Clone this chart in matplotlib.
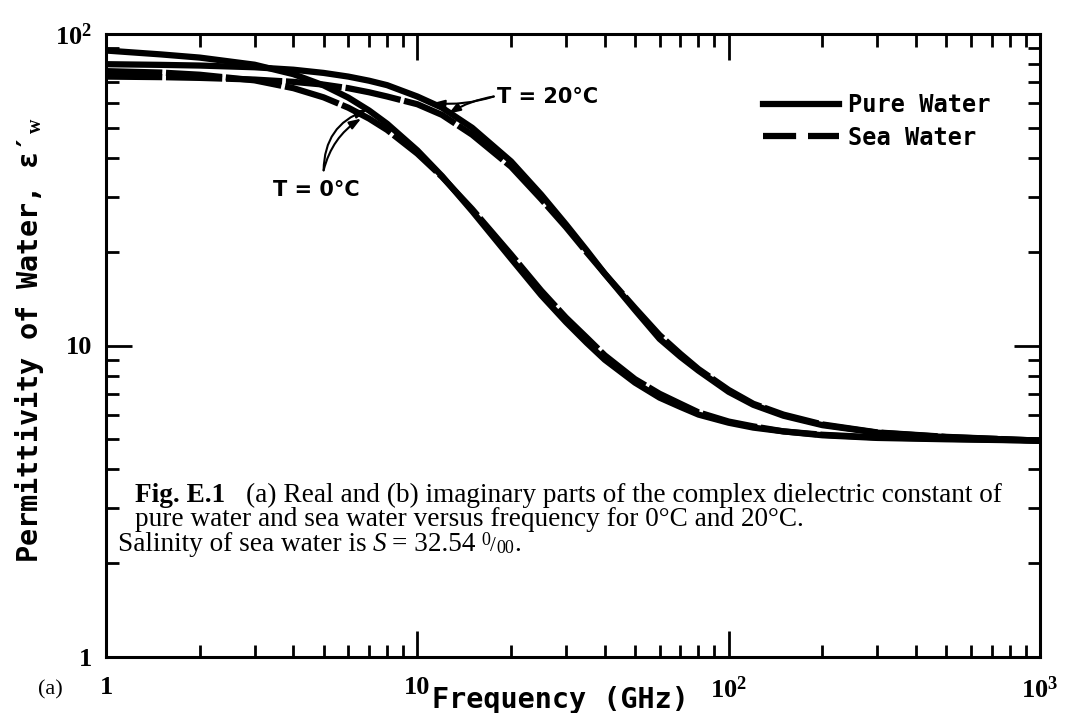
import matplotlib
matplotlib.use('Agg')
import matplotlib.pyplot as plt
from matplotlib.lines import Line2D
from matplotlib.ticker import NullFormatter

# 读图得到的数据 (GHz, 介电常数实部)
freq = [1, 1.5, 2, 3, 4, 5, 6, 7, 8, 10, 12, 15, 20, 25, 30, 35, 40, 50, 60, 70, 80, 100, 120, 150, 200, 300, 500, 1000]
pure_0c = [88.5, 86, 84, 79.7, 74.3, 68.4, 62.5, 56.8, 51.5, 42.3, 35, 27, 19, 14.5, 11.9, 10.2, 9.0, 7.6, 6.8, 6.35, 6.0, 5.65, 5.45, 5.3, 5.15, 5.05, 5.0, 4.95]
pure_20c = [80, 79.6, 79.2, 78.2, 76.8, 75, 73, 70.8, 68.5, 63, 58, 50, 39, 30.5, 24.5, 20.2, 17, 13, 10.5, 9.2, 8.3, 7.1, 6.45, 5.95, 5.55, 5.25, 5.08, 4.95]
sea_0c = [76, 75.2, 74, 71, 67, 62.6, 58, 53.5, 49.2, 41.3, 34.8, 27.4, 19.6, 15, 12.3, 10.6, 9.3, 7.8, 7.0, 6.5, 6.1, 5.7, 5.5, 5.3, 5.17, 5.07, 5.02, 4.95]
sea_20c = [73, 72.7, 72.3, 71.4, 70.2, 68.8, 67, 65, 63, 59.5, 55, 47.5, 37.5, 29.5, 24, 19.9, 17, 13.2, 10.8, 9.4, 8.4, 7.2, 6.5, 6.0, 5.58, 5.26, 5.09, 4.95]

x_ticks = [1, 10, 100, 1000]
x_labels = ['1', '10', r'$\mathbf{10^2}$', r'$\mathbf{10^3}$']
y_ticks = [1, 10, 100]
y_labels = ['1', '10', r'$\mathbf{10^2}$']

plt.rcParams['mathtext.fontset'] = 'custom'
plt.rcParams['mathtext.rm'] = 'Liberation Serif'
plt.rcParams['mathtext.it'] = 'Liberation Serif:italic'
plt.rcParams['mathtext.bf'] = 'Liberation Serif:bold'

W, H = 1069, 713


def px(x, y):
    # 像素坐标 -> figure 坐标
    return x / W, 1 - y / H


mono = ['DejaVu Sans Mono', 'DejaVu Sans']
sans = ['DejaVu Sans']
serif = ['Liberation Serif', 'DejaVu Serif']

fig = plt.figure(figsize=(W / 100, H / 100), dpi=100)
ax = fig.add_axes([106 / W, 1 - 657 / H, (1040 - 106) / W, (657 - 34) / H])
ax.set_xscale('log')
ax.set_yscale('log')

lw = 4.5
sea_dash = (0, (9, 0.6))
ax.plot(freq, pure_0c, color='black', lw=lw, solid_capstyle='butt')
ax.plot(freq, pure_20c, color='black', lw=lw, solid_capstyle='butt')
ax.plot(freq, sea_0c, color='black', lw=lw, linestyle=sea_dash)
ax.plot(freq, sea_20c, color='black', lw=lw, linestyle=sea_dash)

ax.set_xlim(1, 1000)
ax.set_ylim(1, 100)

# 坐标轴样式
for s in ax.spines.values():
    s.set_linewidth(2.2)
ax.tick_params(which='both', direction='in', top=True, right=True, width=2)
ax.tick_params(which='major', length=19)
ax.tick_params(which='minor', length=9)
ax.tick_params(axis='x', which='major', pad=14)
ax.tick_params(axis='y', which='major', pad=10)
ax.set_xticks(x_ticks)
ax.set_xticklabels(x_labels, family=serif, fontweight='bold', fontsize=19)
ax.set_yticks(y_ticks)
ax.set_yticklabels(y_labels, family=serif, fontweight='bold', fontsize=19)
ax.xaxis.set_minor_formatter(NullFormatter())
ax.yaxis.set_minor_formatter(NullFormatter())

# 轴标题
fig.text(*px(560, 700), 'Frequency (GHz)', family=mono, fontweight='bold',
         fontsize=20.5, ha='center', va='center')
fig.text(*px(30, 340), r"Permittivity of Water, ε′$_{\mathbf{w}}$", family=mono,
         fontweight='bold', fontsize=20.5, ha='center', va='center', rotation=90)
fig.text(*px(50, 690), '(a)', family=serif, fontsize=16, ha='center', va='center')

# 图例
h_pure = Line2D([], [], color='black', lw=lw)
h_sea = Line2D([], [], color='black', lw=lw, dashes=(5.3, 1.9))
ax.legend([h_pure, h_sea], ['Pure Water', 'Sea Water'], frameon=False,
          loc='upper left', bbox_to_anchor=px(754, 84), bbox_transform=fig.transFigure,
          prop={'family': mono, 'weight': 'bold', 'size': 17},
          handlelength=3.2, handletextpad=0.4, labelspacing=0.35, borderaxespad=0)

# 温度标注
arrow = dict(arrowstyle='-|>,head_length=0.7,head_width=0.25', color='black', lw=1.5,
             shrinkA=0, shrinkB=0)
ax.annotate('', xy=(11.2, 60), xytext=(17.6, 63),
            arrowprops=dict(arrow, connectionstyle='arc3,rad=-0.1'))
ax.annotate('', xy=(12.6, 55.5), xytext=(17.6, 63),
            arrowprops=dict(arrow, connectionstyle='arc3,rad=0.1'))
ax.text(18.0, 63, 'T = 20°C', family=sans, fontweight='bold', fontsize=15,
        ha='left', va='center')
ax.annotate('', xy=(6.9, 57), xytext=(5.0, 36.5),
            arrowprops=dict(arrow, connectionstyle='arc3,rad=-0.35'))
ax.annotate('', xy=(6.6, 53.5), xytext=(5.0, 36.5),
            arrowprops=dict(arrow, connectionstyle='arc3,rad=-0.2'))
ax.text(4.75, 31.5, 'T = 0°C', family=sans, fontweight='bold', fontsize=15,
        ha='center', va='center')

# 图注文字
cap_size = 19.6
renderer = fig.canvas.get_renderer()


def put(x, y, s, size=cap_size, **kw):
    # 放一段文字，返回其右端的像素位置
    t = fig.text(*px(x, y), s, family=serif, fontsize=size, va='baseline', ha='left', **kw)
    return t.get_window_extent(renderer=renderer).x1


put(135, 502, 'Fig. E.1', fontweight='bold')
put(246, 502, '(a) Real and (b) imaginary parts of the complex dielectric constant of')
put(135, 526, 'pure water and sea water versus frequency for 0°C and 20°C.')
x = put(118, 551, 'Salinity of sea water is')
x = put(x + 6, 551, 'S', style='italic')
x = put(x + 6, 551, '= 32.54')
x = put(x + 6, 545, '0', size=13)
x = put(x, 551, '/', size=15)
x = put(x, 553, '00', size=13)
put(x, 551, '.')

plt.savefig('out.png', dpi=100)
